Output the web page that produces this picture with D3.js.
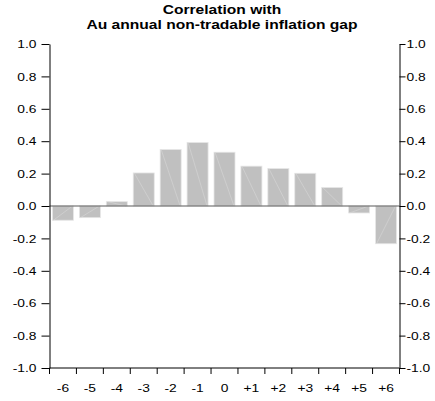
<!DOCTYPE html>
<html>
<head>
<meta charset="utf-8">
<script src="https://cdn.jsdelivr.net/npm/d3@7"></script>
<style>
  body { margin: 0; background: #fff; }
  text { font-family: Arial, "Liberation Sans", sans-serif; }
</style>
</head>
<body>
<div id="chart"></div>
<script>
// lag (quarters) and correlation values
var lags = ["-6", "-5", "-4", "-3", "-2", "-1", "0", "+1", "+2", "+3", "+4", "+5", "+6"];
var corr = [-0.088, -0.072, 0.027, 0.204, 0.349, 0.392, 0.332, 0.246, 0.231, 0.202, 0.114, -0.043, -0.233];
var yTicks = [-1.0, -0.8, -0.6, -0.4, -0.2, 0.0, 0.2, 0.4, 0.6, 0.8, 1.0];
var titleLines = ["Correlation with", "Au annual non-tradable inflation gap"];

var svgSize = {w: 435, h: 401};
var plot = {left: 49.5, right: 399.5, top: 44, bottom: 368};
var sx = 1.2; // text in the picture is a bit wider than plain Arial

var svg = d3.select("#chart").append("svg")
  .attr("width", svgSize.w)
  .attr("height", svgSize.h);

var x = d3.scaleBand()
  .domain(lags)
  .range([plot.left, plot.right])
  .paddingInner(0.22)
  .paddingOuter(0.11);

var y = d3.scaleLinear()
  .domain([-1, 1])
  .range([plot.bottom, plot.top]);

var fmt = function(d) { return d.toFixed(1); };

// bars
var bars = svg.append("g");
var data = lags.map(function(l, i) { return {lag: l, v: corr[i]}; });

bars.selectAll("rect")
  .data(data)
  .enter().append("rect")
  .attr("x", function(d) { return x(d.lag); })
  .attr("y", function(d) { return y(Math.max(0, d.v)); })
  .attr("width", x.bandwidth())
  .attr("height", function(d) { return Math.abs(y(d.v) - y(0)); })
  .style("fill", "#c0c0c0")
  .style("stroke", "#e6e6e6")
  .style("stroke-width", 0.8);

// faint diagonal inside each bar
bars.selectAll("line")
  .data(data)
  .enter().append("line")
  .attr("x1", function(d) { return x(d.lag) + 1; })
  .attr("y1", function(d) { return y(d.v); })
  .attr("x2", function(d) { return x(d.lag) + x.bandwidth() - 1; })
  .attr("y2", y(0))
  .style("stroke", "#d6d6d6")
  .style("stroke-width", 0.6);

// zero line
svg.append("line")
  .attr("x1", plot.left).attr("x2", plot.right)
  .attr("y1", y(0)).attr("y2", y(0))
  .style("stroke", "#5a5a5a")
  .style("stroke-width", 1.2);

// left and right axes
var leftAxis = svg.append("g")
  .attr("transform", "translate(" + plot.left + ",0)")
  .call(d3.axisLeft(y).tickValues(yTicks).tickFormat(fmt).tickSize(8).tickSizeOuter(0).tickPadding(5));

var rightAxis = svg.append("g")
  .attr("transform", "translate(" + plot.right + ",0)")
  .call(d3.axisRight(y).tickValues(yTicks).tickFormat(fmt).tickSize(6).tickSizeOuter(0).tickPadding(1));

[leftAxis, rightAxis].forEach(function(g) {
  g.selectAll("text")
    .style("font-size", "11.5px")
    .style("fill", "#000")
    .attr("x", function() { return +d3.select(this).attr("x") / sx; })
    .attr("transform", "scale(" + sx + ",1)");
  g.selectAll("line, path").style("stroke", "#000");
});

// bottom axis: line, ticks at band edges, labels at centres
var bottom = svg.append("g");
bottom.append("line")
  .attr("x1", plot.left).attr("x2", plot.right)
  .attr("y1", plot.bottom).attr("y2", plot.bottom)
  .style("stroke", "#000");

var edges = d3.range(lags.length + 1).map(function(i) { return plot.left + i * x.step(); });
bottom.selectAll(".tk")
  .data(edges)
  .enter().append("line")
  .attr("class", "tk")
  .attr("x1", function(d) { return d; }).attr("x2", function(d) { return d; })
  .attr("y1", plot.bottom).attr("y2", plot.bottom + 6)
  .style("stroke", "#000");

bottom.selectAll("text")
  .data(lags)
  .enter().append("text")
  .attr("x", function(d) { return (x(d) + x.bandwidth() / 2) / sx; })
  .attr("y", 392)
  .attr("transform", "scale(" + sx + ",1)")
  .attr("text-anchor", "middle")
  .style("font-size", "11.5px")
  .text(function(d) { return d; });

// title
svg.selectAll(".title")
  .data(titleLines)
  .enter().append("text")
  .attr("class", "title")
  .attr("x", 222 / sx)
  .attr("y", function(d, i) { return 14 + i * 15.5; })
  .attr("transform", "scale(" + sx + ",1)")
  .attr("text-anchor", "middle")
  .style("font-size", "13px")
  .style("font-weight", "bold")
  .text(function(d) { return d; });
</script>
</body>
</html>
